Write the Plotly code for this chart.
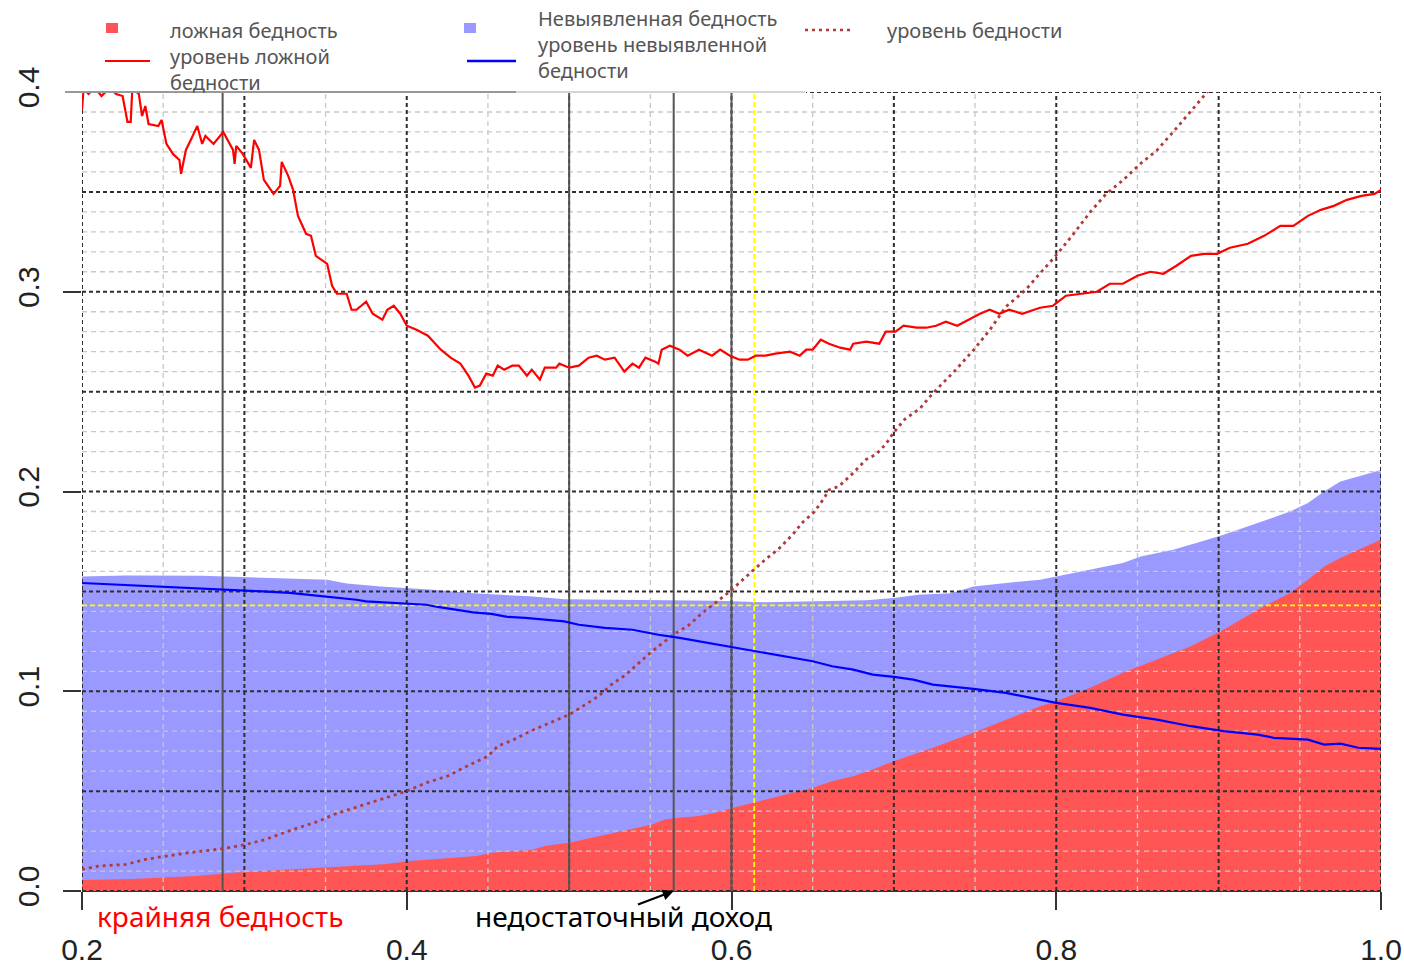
import plotly.graph_objects as go

# уровень ложной бедности (red line)
false_rate_x = [
    0.200, 0.201, 0.204, 0.208, 0.212, 0.217, 0.221, 0.225, 0.228, 0.230, 0.231, 0.235,
    0.237, 0.239, 0.241, 0.247, 0.249, 0.252, 0.256, 0.260, 0.261, 0.264, 0.267, 0.271,
    0.274, 0.276, 0.281, 0.287, 0.293, 0.294, 0.295, 0.299, 0.304, 0.306, 0.309, 0.312,
    0.318, 0.322, 0.323, 0.327, 0.330, 0.333, 0.338, 0.341, 0.344, 0.351, 0.354, 0.357,
    0.363, 0.366, 0.369, 0.375, 0.379, 0.385, 0.388, 0.392, 0.396, 0.400, 0.406, 0.413,
    0.421, 0.427, 0.433, 0.438, 0.442, 0.445, 0.449, 0.453, 0.456, 0.460, 0.465, 0.469,
    0.474, 0.477, 0.482, 0.485, 0.492, 0.494, 0.500, 0.506, 0.512, 0.517, 0.522, 0.528,
    0.534, 0.539, 0.543, 0.547, 0.553, 0.555, 0.557, 0.562, 0.568, 0.573, 0.580, 0.588,
    0.593, 0.599, 0.605, 0.610, 0.615, 0.621, 0.627, 0.636, 0.642, 0.646, 0.650, 0.655,
    0.660, 0.667, 0.673, 0.675, 0.683, 0.691, 0.695, 0.701, 0.706, 0.714, 0.720, 0.726,
    0.732, 0.739, 0.746, 0.753, 0.759, 0.765, 0.771, 0.779, 0.790, 0.798, 0.806, 0.814,
    0.825, 0.833, 0.841, 0.850, 0.858, 0.866, 0.874, 0.883, 0.891, 0.899, 0.907, 0.918,
    0.928, 0.938, 0.946, 0.955, 0.963, 0.971, 0.979, 0.988, 0.996, 1.000,
]
false_rate_y = [
    0.391, 0.402, 0.399, 0.402, 0.398, 0.402, 0.399, 0.398, 0.385, 0.385, 0.402, 0.399,
    0.388, 0.393, 0.384, 0.383, 0.386, 0.374, 0.369, 0.366, 0.359, 0.371, 0.376, 0.383,
    0.374, 0.378, 0.374, 0.380, 0.371, 0.364, 0.373, 0.369, 0.362, 0.376, 0.371, 0.356,
    0.349, 0.353, 0.365, 0.358, 0.351, 0.338, 0.329, 0.328, 0.318, 0.314, 0.303, 0.299,
    0.299, 0.291, 0.291, 0.295, 0.289, 0.286, 0.291, 0.293, 0.289, 0.283, 0.281, 0.278,
    0.271, 0.267, 0.264, 0.258, 0.252, 0.253, 0.259, 0.258, 0.263, 0.261, 0.263, 0.263,
    0.258, 0.261, 0.256, 0.262, 0.262, 0.264, 0.262, 0.263, 0.267, 0.268, 0.266, 0.267,
    0.260, 0.264, 0.262, 0.267, 0.265, 0.264, 0.271, 0.273, 0.271, 0.268, 0.271, 0.268,
    0.271, 0.268, 0.266, 0.266, 0.268, 0.268, 0.269, 0.270, 0.268, 0.271, 0.271, 0.276,
    0.274, 0.272, 0.271, 0.274, 0.275, 0.274, 0.280, 0.280, 0.283, 0.282, 0.282, 0.283,
    0.285, 0.283, 0.286, 0.289, 0.291, 0.289, 0.291, 0.289, 0.292, 0.293, 0.298, 0.299,
    0.300, 0.304, 0.304, 0.308, 0.310, 0.309, 0.313, 0.318, 0.319, 0.319, 0.322, 0.324,
    0.328, 0.333, 0.333, 0.338, 0.341, 0.343, 0.346, 0.348, 0.349, 0.351,
]

# уровень невыявленной бедности (blue line)
missed_rate_x = [
    0.200, 0.225, 0.260, 0.293, 0.311, 0.328, 0.340, 0.351, 0.369, 0.375, 0.394, 0.412,
    0.419, 0.429, 0.441, 0.452, 0.462, 0.473, 0.497, 0.506, 0.522, 0.539, 0.549, 0.555,
    0.568, 0.580, 0.596, 0.609, 0.621, 0.634, 0.650, 0.662, 0.675, 0.687, 0.700, 0.712,
    0.724, 0.749, 0.769, 0.790, 0.800, 0.821, 0.841, 0.862, 0.883, 0.903, 0.924, 0.934,
    0.955, 0.965, 0.975, 0.986, 1.000,
]
missed_rate_y = [
    0.1542, 0.1533, 0.1522, 0.1508, 0.1500, 0.1492, 0.1483, 0.1472, 0.1458, 0.1450, 0.1442, 0.1433,
    0.1422, 0.1408, 0.1395, 0.1387, 0.1372, 0.1367, 0.1350, 0.1333, 0.1317, 0.1308, 0.1292, 0.1283,
    0.1267, 0.1250, 0.1225, 0.1208, 0.1192, 0.1175, 0.1150, 0.1125, 0.1108, 0.1083, 0.1072, 0.1058,
    0.1033, 0.1012, 0.0992, 0.0958, 0.0942, 0.0917, 0.0883, 0.0858, 0.0825, 0.0800, 0.0783, 0.0767,
    0.0758, 0.0733, 0.0738, 0.0717, 0.0712,
]

# уровень бедности (brown dotted line)
poverty_x = [
    0.200, 0.210, 0.227, 0.239, 0.252, 0.266, 0.287, 0.301, 0.313, 0.330, 0.346, 0.355,
    0.371, 0.388, 0.400, 0.412, 0.425, 0.437, 0.450, 0.456, 0.466, 0.476, 0.491, 0.500,
    0.510, 0.518, 0.526, 0.535, 0.543, 0.551, 0.559, 0.566, 0.574, 0.582, 0.590, 0.599,
    0.607, 0.614, 0.621, 0.629, 0.638, 0.644, 0.651, 0.657, 0.660, 0.666, 0.675, 0.683,
    0.689, 0.695, 0.700, 0.707, 0.716, 0.724, 0.728, 0.738, 0.749, 0.759, 0.769, 0.781,
    0.790, 0.800, 0.810, 0.821, 0.831, 0.841, 0.852, 0.862, 0.872, 0.880, 0.893, 0.905,
]
poverty_y = [
    0.0108, 0.0125, 0.0133, 0.0158, 0.0175, 0.0192, 0.0212, 0.0233, 0.0258, 0.0308, 0.0350, 0.0383,
    0.0425, 0.0467, 0.0500, 0.0542, 0.0575, 0.0625, 0.0675, 0.0725, 0.0758, 0.0800, 0.0850, 0.0883,
    0.0933, 0.0975, 0.1033, 0.1083, 0.1142, 0.1200, 0.1250, 0.1292, 0.1333, 0.1392, 0.1442, 0.1500,
    0.1559, 0.1610, 0.1661, 0.1712, 0.1788, 0.1847, 0.1898, 0.1966, 0.2008, 0.2025, 0.2093, 0.2161,
    0.2186, 0.2237, 0.2297, 0.2364, 0.2415, 0.2492, 0.2525, 0.2608, 0.2708, 0.2808, 0.2925, 0.3008,
    0.3092, 0.3183, 0.3283, 0.3400, 0.3492, 0.3558, 0.3642, 0.3708, 0.3800, 0.3875, 0.4000, 0.4150,
]

# Невыявленная бедность (blue area)
missed_x = [
    0.200, 0.227, 0.274, 0.287, 0.313, 0.351, 0.363, 0.384, 0.414, 0.441, 0.476, 0.497,
    0.559, 0.590, 0.621, 0.650, 0.683, 0.700, 0.715, 0.735, 0.749, 0.769, 0.790, 0.800,
    0.821, 0.841, 0.852, 0.872, 0.893, 0.903, 0.924, 0.944, 0.955, 0.965, 0.975, 0.986,
    1.000,
]
missed_y = [
    0.1575, 0.1580, 0.1578, 0.1575, 0.1567, 0.1558, 0.1540, 0.1525, 0.1510, 0.1490, 0.1475, 0.1460,
    0.1455, 0.1453, 0.1445, 0.1448, 0.1455, 0.1467, 0.1483, 0.1490, 0.1525, 0.1542, 0.1558, 0.1575,
    0.1608, 0.1642, 0.1675, 0.1708, 0.1758, 0.1783, 0.1842, 0.1900, 0.1942, 0.2000, 0.2050, 0.2075,
    0.2108,
]

# ложная бедность (red area)
false_x = [
    0.200, 0.231, 0.270, 0.295, 0.324, 0.353, 0.386, 0.402, 0.423, 0.443, 0.452, 0.477,
    0.485, 0.500, 0.514, 0.528, 0.543, 0.551, 0.559, 0.568, 0.580, 0.590, 0.601, 0.613,
    0.625, 0.638, 0.650, 0.662, 0.675, 0.687, 0.700, 0.712, 0.724, 0.749, 0.769, 0.790,
    0.800, 0.821, 0.841, 0.862, 0.883, 0.903, 0.924, 0.944, 0.955, 0.965, 0.975, 0.986,
    1.000,
]
false_y = [
    0.0055, 0.0060, 0.0075, 0.0092, 0.0106, 0.0118, 0.0134, 0.0150, 0.0162, 0.0175, 0.0192, 0.0205,
    0.0225, 0.0242, 0.0267, 0.0292, 0.0317, 0.0333, 0.0358, 0.0367, 0.0375, 0.0392, 0.0417, 0.0442,
    0.0467, 0.0492, 0.0517, 0.0550, 0.0575, 0.0608, 0.0650, 0.0683, 0.0717, 0.0792, 0.0858, 0.0925,
    0.0950, 0.1017, 0.1092, 0.1158, 0.1225, 0.1308, 0.1408, 0.1492, 0.1558, 0.1625, 0.1667, 0.1708,
    0.1758,
]

# reference lines
cut_x = [0.2866, 0.5, 0.5644, 0.6]
yellow_x = 0.614
yellow_y = 0.143

x_ticks = [0.2, 0.4, 0.6, 0.8, 1.0]
y_ticks = [0.0, 0.1, 0.2, 0.3, 0.4]

X0, X1, Y0, Y1 = 0.2, 1.0, 0.0, 0.4

# plot area in pixels: left 82, right 1381, top 92, bottom 891
def fx(px):
    return (px - 82) / 1299


def fy(py):
    return (891 - py) / 799


def vsegs(xs, y0, y1):
    xx, yy = [], []
    for x in xs:
        xx += [x, x, None]
        yy += [y0, y1, None]
    return xx, yy


def hsegs(ys, x0, x1):
    xx, yy = [], []
    for y in ys:
        xx += [x0, x1, None]
        yy += [y, y, None]
    return xx, yy


major_x = [round(0.2 + 0.1 * i, 3) for i in range(9)]
minor_x = [round(0.25 + 0.1 * i, 3) for i in range(8)]
major_y = [round(0.05 * i, 3) for i in range(9)]
minor_y = [round(0.01 * i, 3) for i in range(41) if i % 5]

fig = go.Figure()

fig.add_trace(go.Scatter(x=missed_x, y=missed_y, mode="lines", fill="tozeroy",
                         fillcolor="#9999FF", line=dict(width=0, color="#9999FF"),
                         hoverinfo="skip"))
fig.add_trace(go.Scatter(x=false_x, y=false_y, mode="lines", fill="tozeroy",
                         fillcolor="#FF5555", line=dict(width=0, color="#FF5555"),
                         hoverinfo="skip"))

# grid on top of the areas
light = dict(color="#C8C8C8", width=1.3, dash="5px,4px")
dark = dict(color="#2E2E2E", width=2, dash="4px,3px")
gx, gy = vsegs(minor_x, Y0, Y1)
fig.add_trace(go.Scatter(x=gx, y=gy, mode="lines", line=light, hoverinfo="skip"))
gx, gy = hsegs(minor_y, X0, X1)
fig.add_trace(go.Scatter(x=gx, y=gy, mode="lines", line=light, hoverinfo="skip"))
gx, gy = vsegs(major_x, Y0, Y1)
fig.add_trace(go.Scatter(x=gx, y=gy, mode="lines", line=dark, hoverinfo="skip"))
gx, gy = hsegs(major_y, X0, X1)
fig.add_trace(go.Scatter(x=gx, y=gy, mode="lines", line=dark, hoverinfo="skip"))

yellow = dict(color="#FFFF00", width=1.8, dash="5px,3px")
gx, gy = vsegs([yellow_x], Y0, Y1)
fig.add_trace(go.Scatter(x=gx, y=gy, mode="lines", line=yellow, hoverinfo="skip"))
gx, gy = hsegs([yellow_y], X0, X1)
fig.add_trace(go.Scatter(x=gx, y=gy, mode="lines", line=yellow, hoverinfo="skip"))

gx, gy = vsegs(cut_x, Y0, Y1)
fig.add_trace(go.Scatter(x=gx, y=gy, mode="lines",
                         line=dict(color="#555555", width=2), hoverinfo="skip"))

fig.add_trace(go.Scatter(x=poverty_x, y=poverty_y, mode="lines", name="уровень бедности",
                         line=dict(color="#B03A3A", width=2.8, dash="3px,4px")))
fig.add_trace(go.Scatter(x=missed_rate_x, y=missed_rate_y, mode="lines",
                         name="уровень невыявленной бедности",
                         line=dict(color="#0000FF", width=2.2)))
fig.add_trace(go.Scatter(x=false_rate_x, y=false_rate_y, mode="lines",
                         name="уровень ложной бедности",
                         line=dict(color="#FF0000", width=2.2)))

# legend box and keys drawn above the plot
shapes = [
    dict(type="rect", xref="paper", yref="paper", x0=fx(60), x1=fx(806),
         y0=fy(93), y1=fy(0), fillcolor="white", line=dict(width=0), layer="above"),
    dict(type="line", xref="paper", yref="paper", x0=fx(65), x1=fx(516),
         y0=1, y1=1, line=dict(color="#333333", width=1), layer="above"),
    dict(type="line", xref="paper", yref="paper", x0=fx(516), x1=fx(805),
         y0=1, y1=1, line=dict(color="#AAAAAA", width=1), layer="above"),
    dict(type="rect", xref="paper", yref="paper", x0=fx(106), x1=fx(118),
         y0=fy(33), y1=fy(23), fillcolor="#FF5555", line=dict(width=0), layer="above"),
    dict(type="line", xref="paper", yref="paper", x0=fx(105), x1=fx(150),
         y0=fy(61), y1=fy(61), line=dict(color="#FF0000", width=2), layer="above"),
    dict(type="rect", xref="paper", yref="paper", x0=fx(464), x1=fx(476),
         y0=fy(33), y1=fy(23), fillcolor="#9999FF", line=dict(width=0), layer="above"),
    dict(type="line", xref="paper", yref="paper", x0=fx(467), x1=fx(516),
         y0=fy(61), y1=fy(61), line=dict(color="#0000FF", width=2.5), layer="above"),
    dict(type="line", xref="paper", yref="paper", x0=fx(805), x1=fx(850),
         y0=fy(30), y1=fy(30), line=dict(color="#B03A3A", width=2.5, dash="3px,4px"),
         layer="above"),
]

legend_font = dict(family="Noto Sans", size=20, color="#555555")
legend_items = [
    ("ложная бедность<br>уровень ложной<br>бедности", 168, 57),
    ("Невыявленная бедность<br>уровень невыявленной<br>бедности", 536, 45),
    ("уровень бедности", 885, 31),
]
annotations = [
    dict(text=t, xref="paper", yref="paper", x=fx(px), y=fy(py), xanchor="left",
         yanchor="middle", align="left", showarrow=False, font=legend_font)
    for t, px, py in legend_items
]

note_font = dict(family="Noto Sans", size=28)
annotations.append(dict(text="крайняя бедность", xref="paper", yref="paper",
                        x=fx(95), y=fy(916), xanchor="left", yanchor="middle",
                        showarrow=False, font=dict(note_font, color="#FF0000")))
annotations.append(dict(text="недостаточный доход", xref="paper", yref="paper",
                        x=fx(623), y=fy(916), xanchor="center", yanchor="middle",
                        showarrow=False, font=dict(note_font, color="#000000")))
annotations.append(dict(text="", x=0.5644, y=0.0, xref="x", yref="y",
                        ax=0.5415, ay=-0.007, axref="x", ayref="y", showarrow=True,
                        arrowhead=2, arrowsize=1, arrowwidth=2.2, arrowcolor="#000000"))

tick_font = dict(family="Liberation Sans, Arial", size=30, color="#222222")

fig.update_layout(
    width=1404,
    height=965,
    margin=dict(l=82, r=23, t=92, b=74, pad=0),
    paper_bgcolor="white",
    plot_bgcolor="white",
    showlegend=False,
    hovermode=False,
    shapes=shapes,
    annotations=annotations,
    xaxis=dict(
        range=[X0, X1], tickvals=x_ticks, ticktext=[f"{v:.1f}" for v in x_ticks],
        ticks="outside", ticklen=18, tickwidth=1.5, tickcolor="#333333",
        showgrid=False, zeroline=False, showline=True, linecolor="#333333", linewidth=1,
        tickfont=tick_font, ticklabelstandoff=14, automargin=False,
    ),
    yaxis=dict(
        range=[Y0, Y1], tickvals=y_ticks, ticktext=[f"{v:.1f}" for v in y_ticks],
        ticks="outside", ticklen=18, tickwidth=1.5, tickcolor="#333333",
        showgrid=False, zeroline=False, showline=False, tickangle=-90,
        tickfont=tick_font, ticklabelstandoff=12, automargin=False,
    ),
)

# drop the default page margin so the 1404x965 figure fills the window exactly
fig.write_html("out.html", config={"displayModeBar": False},
               post_script="document.body.style.margin = '0px';")
